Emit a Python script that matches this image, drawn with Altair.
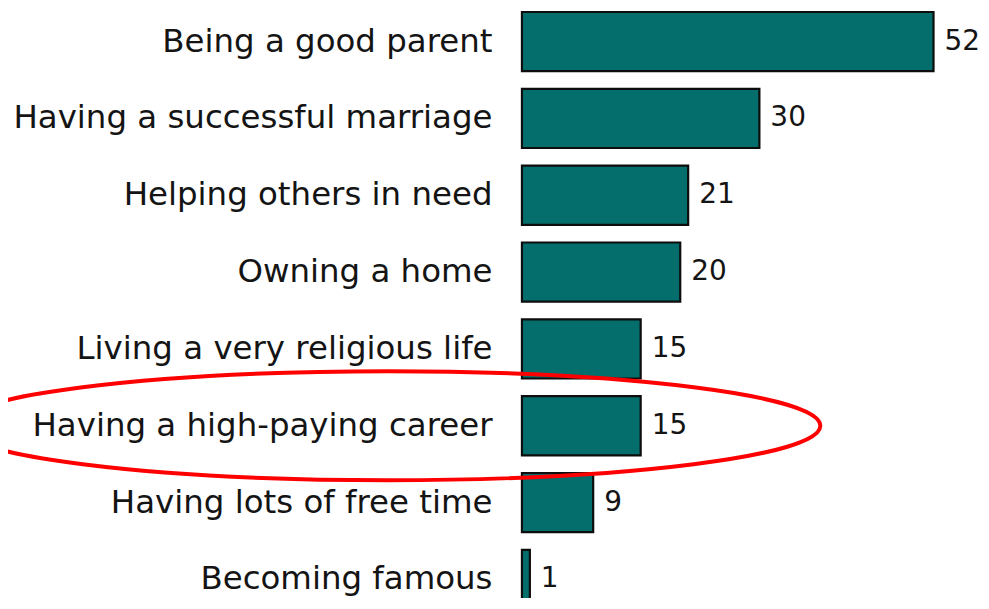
import altair as alt
import pandas as pd

categories = [
    "Being a good parent",
    "Having a successful marriage",
    "Helping others in need",
    "Owning a home",
    "Living a very religious life",
    "Having a high-paying career",
    "Having lots of free time",
    "Becoming famous",
]
values = [52, 30, 21, 20, 15, 15, 9, 1]
highlight = ["Having a high-paying career"]

df = pd.DataFrame({"label": categories, "value": values})
hl = pd.DataFrame({"label": highlight})

FONT = "DejaVu Sans"
TXT = "#141414"

# unit-ellipse path (aspect ~ 0.126) used as a custom symbol shape
b = 0.126
k = 0.5523
ell = (
    f"M -1 0 C -1 {-k*b:.4f} {-k:.4f} {-b:.4f} 0 {-b:.4f} "
    f"C {k:.4f} {-b:.4f} 1 {-k*b:.4f} 1 0 "
    f"C 1 {k*b:.4f} {k:.4f} {b:.4f} 0 {b:.4f} "
    f"C {-k:.4f} {b:.4f} -1 {k*b:.4f} -1 0 Z"
)

yenc = alt.Y(
    "label:N",
    sort=categories,
    scale=alt.Scale(range=[0, 605], paddingInner=0.23, paddingOuter=0.044),
    axis=alt.Axis(
        title=None,
        ticks=False,
        domain=False,
        labelPadding=30,
        labelFont=FONT,
        labelFontSize=32.5,
        labelColor=TXT,
        labelLimit=0,
    ),
)
xenc = alt.X("value:Q", scale=alt.Scale(domain=[0, 58], nice=False), axis=None)

bars = alt.Chart(df).mark_bar(
    color="#036e6b", stroke="#0d0d0d", strokeWidth=2.2
).encode(y=yenc, x=xenc)

labels = alt.Chart(df).mark_text(
    align="left", baseline="middle", dx=11, font=FONT, fontSize=28, color=TXT
).encode(y=alt.Y("label:N", sort=categories), x="value:Q", text="value:Q")

ellipse = alt.Chart(hl).mark_point(
    shape=ell, size=866 * 866, filled=False, stroke="#ff0000", strokeWidth=4, opacity=1
).encode(y=alt.Y("label:N", sort=categories), x=alt.value(-134))

chart = (
    alt.layer(bars, labels, ellipse)
    .properties(
        width=460,
        height=590,
        autosize=alt.AutoSizeParams(type="none"),
        padding={"left": 515, "top": 0, "right": 0, "bottom": 0},
        background="white",
    )
    .configure_view(stroke=None)
)

chart.save("out.html", embed_options={"renderer": "svg", "actions": False})
